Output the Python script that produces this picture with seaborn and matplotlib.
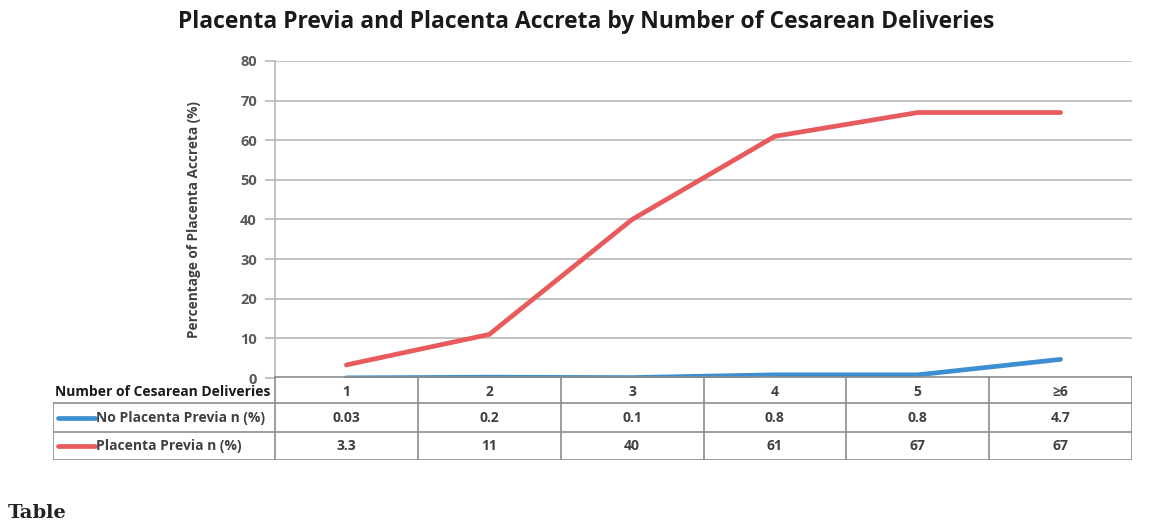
"""
Placenta previa / accreta chart with an Excel-style data table under it.
"""

import matplotlib.pyplot as plt
import seaborn as sn
import pandas as pd

# data
deliveries = ["1", "2", "3", "4", "5", "≥6"]
no_previa = [0.03, 0.2, 0.1, 0.8, 0.8, 4.7]
previa = [3.3, 11, 40, 61, 67, 67]
no_previa_text = ["0.03", "0.2", "0.1", "0.8", "0.8", "4.7"]
previa_text = ["3.3", "11", "40", "61", "67", "67"]
series_names = ["No Placenta Previa n (%)", "Placenta Previa n (%)"]
y_ticks = [0, 10, 20, 30, 40, 50, 60, 70, 80]

blue = "#3D8FD1"
red = "#E85A5B"
grid_col = "#B8B8B8"
text_col = "#404040"

sn.set_style("white")
plt.rcParams["font.family"] = ["Open Sans", "DejaVu Sans"]

df = pd.DataFrame({
    "pos": list(range(len(deliveries))) * 2,
    "value": no_previa + previa,
    "series": [series_names[0]] * 6 + [series_names[1]] * 6,
})

fig = plt.figure(figsize=(11.59, 5.24), dpi=100)
W, H = 1159, 524

# main plot
ax = fig.add_axes([275 / W, (H - 378) / H, (1132 - 275) / W, (378 - 61) / H])
sn.lineplot(data=df, x="pos", y="value", hue="series",
            palette=[blue, red], linewidth=3.4, legend=False, ax=ax)
ax.set_xlim(-0.5, 5.5)
ax.set_ylim(0, 80)
ax.set_yticks(y_ticks)
ax.set_yticklabels([str(t) for t in y_ticks], fontsize=10.5,
                   fontweight="bold", color="#595959")
ax.set_xticks([])
ax.set_xlabel("")
ax.set_ylabel("Percentage of Placenta Accreta (%)", fontsize=9.8,
              fontweight="bold", color=text_col, labelpad=28)
for t in y_ticks[1:]:
    ax.axhline(t, color=grid_col, linewidth=1.2, zorder=0)
for s in ["top", "right", "bottom"]:
    ax.spines[s].set_visible(False)
ax.spines["left"].set_color(grid_col)
ax.spines["left"].set_linewidth(1.2)
ax.tick_params(axis="y", length=7, width=1.2, color=grid_col, left=True, pad=6)

fig.text(586 / W, 1 - 22 / H,
         "Placenta Previa and Placenta Accreta by Number of Cesarean Deliveries",
         ha="center", va="center", fontsize=16.5, fontweight="bold",
         color="#1a1a1a")

# data table
tab = fig.add_axes([53 / W, (H - 460) / H, (1132 - 53) / W, (460 - 376) / H])
colw = (1132 - 275) / 6
left = -0.5 - (275 - 53) / colw
tab.set_xlim(left, 5.5)
tab.set_ylim(460, 376)
tab.axis("off")
border = "#8C8C8C"
rows_y = [376, 403, 432, 460]

# horizontal lines
tab.plot([-0.5, 5.5], [376.5, 376.5], color=border, lw=1.2)
tab.plot([left, 5.5], [403, 403], color=border, lw=1.2)
tab.plot([left, 5.5], [432, 432], color=border, lw=1.2)
tab.plot([left, 5.5], [459.5, 459.5], color=border, lw=1.2)
# vertical lines
for i in range(7):
    tab.plot([i - 0.5, i - 0.5], [376, 460], color=border, lw=1.2)
tab.plot([left + 0.003, left + 0.003], [403, 460], color=border, lw=1.2)

mid = [392, (403 + 432) / 2, (432 + 460) / 2]
fs = 10
for i, lab in enumerate(deliveries):
    tab.text(i, mid[0], lab, ha="center", va="center", fontsize=fs,
             fontweight="bold", color=text_col)
    tab.text(i, mid[1], no_previa_text[i], ha="center", va="center",
             fontsize=fs, fontweight="bold", color=text_col)
    tab.text(i, mid[2], previa_text[i], ha="center", va="center",
             fontsize=fs, fontweight="bold", color=text_col)

tab.text(-0.53, mid[0], "Number of Cesarean Deliveries", ha="right",
         va="center", fontsize=fs, fontweight="bold", color="#1a1a1a")
seg0 = left + 5 / colw
seg1 = left + 42 / colw
for k, (name, col) in enumerate(zip(series_names, [blue, red])):
    tab.plot([seg0, seg1], [mid[k + 1], mid[k + 1]], color=col, lw=3.4,
             solid_capstyle="round")
    tab.text(seg1 + 1 / colw, mid[k + 1], name, ha="left", va="center",
             fontsize=fs, fontweight="bold", color=text_col)

fig.text(8 / W, 2 / H, "Table", ha="left", va="bottom", fontsize=14,
         fontweight="bold", family="DejaVu Serif", color="#222222")

fig.savefig("out.png", dpi=100)
plt.close(fig)
